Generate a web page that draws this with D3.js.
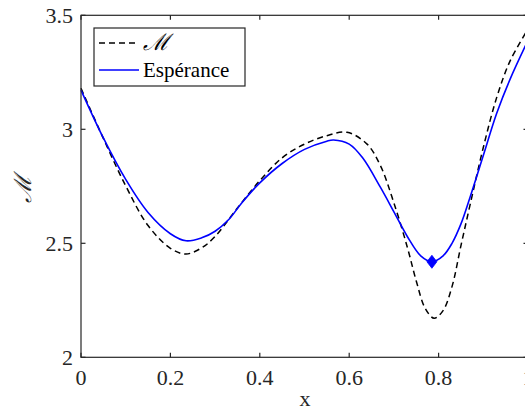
<!DOCTYPE html>
<html><head><meta charset="utf-8">
<script src="https://cdn.jsdelivr.net/npm/d3@7"></script>
<style>body{margin:0;background:#fff}svg{display:block}</style>
</head><body>
<script>
const xValues = [0, 0.05, 0.10, 0.15, 0.20, 0.235, 0.27, 0.30, 0.33, 0.36, 0.40, 0.45, 0.50, 0.55, 0.565, 0.60, 0.63, 0.67, 0.70, 0.73, 0.76, 0.785, 0.81, 0.83, 0.85, 0.87, 0.90, 0.93, 0.96, 1.0];
const esperance = [3.172, 2.962, 2.78, 2.635, 2.542, 2.511, 2.524, 2.553, 2.603, 2.678, 2.765, 2.85, 2.912, 2.948, 2.953, 2.935, 2.875, 2.745, 2.638, 2.53, 2.445, 2.419, 2.445, 2.5, 2.585, 2.70, 2.885, 3.07, 3.22, 3.39];
const xM = [0, 0.05, 0.10, 0.15, 0.20, 0.235, 0.27, 0.30, 0.35, 0.40, 0.45, 0.50, 0.55, 0.595, 0.64, 0.67, 0.70, 0.73, 0.75, 0.77, 0.79, 0.81, 0.83, 0.85, 0.87, 0.90, 0.93, 0.96, 1.0];
const mValues = [3.18, 2.96, 2.752, 2.578, 2.478, 2.453, 2.48, 2.53, 2.655, 2.775, 2.875, 2.935, 2.972, 2.987, 2.935, 2.84, 2.677, 2.483, 2.335, 2.215, 2.171, 2.205, 2.31, 2.49, 2.665, 2.92, 3.14, 3.30, 3.44];
const minPoint = [0.785, 2.419];
const xTicks = [0, 0.2, 0.4, 0.6, 0.8, 1];
const yTicks = [2, 2.5, 3, 3.5];
const legendLabels = ["\u2133", "Espérance"];

const W = 525, H = 410;
const L = 81, R = 528, T = 15.3, B = 357.3;
const svg = d3.select("body").append("svg").attr("width", W).attr("height", H);
const x = d3.scaleLinear().domain([0, 1]).range([L, R]);
const y = d3.scaleLinear().domain([2, 3.5]).range([B, T]);
const axisColor = "#262626";
const font = "'Liberation Serif', serif";

const line = d3.line().curve(d3.curveCatmullRom.alpha(0.5));
svg.append("path").attr("d", line(xM.map((v, i) => [x(v), y(mValues[i])])))
  .attr("fill", "none").attr("stroke", "#000").attr("stroke-width", 1.5).attr("stroke-dasharray", "6,4");
svg.append("path").attr("d", line(xValues.map((v, i) => [x(v), y(esperance[i])])))
  .attr("fill", "none").attr("stroke", "#0000ff").attr("stroke-width", 1.6);
const mx = x(minPoint[0]), my = y(minPoint[1]);
svg.append("path").attr("d", `M${mx},${my - 6.5}L${mx + 5},${my}L${mx},${my + 6.5}L${mx - 5},${my}Z`)
  .attr("fill", "#0000ff").attr("stroke", "#0000ff").attr("stroke-width", 0.8);

// axes
const ax = svg.append("g").attr("stroke", axisColor).attr("stroke-width", 1.2).attr("fill", "none");
ax.append("rect").attr("x", L).attr("y", T).attr("width", R - L).attr("height", B - T);
xTicks.forEach(t => {
  ax.append("line").attr("x1", x(t)).attr("x2", x(t)).attr("y1", B).attr("y2", B - 4.5);
  ax.append("line").attr("x1", x(t)).attr("x2", x(t)).attr("y1", T).attr("y2", T + 4.5);
});
yTicks.forEach(t => {
  ax.append("line").attr("x1", L).attr("x2", L + 4.5).attr("y1", y(t)).attr("y2", y(t));
  ax.append("line").attr("x1", R).attr("x2", R - 4.5).attr("y1", y(t)).attr("y2", y(t));
});
const fmt = d => d3.format("~g")(d);
xTicks.forEach(t => {
  svg.append("text").attr("x", x(t)).attr("y", 385).attr("text-anchor", "middle")
    .attr("font-family", font).attr("font-size", 22).attr("fill", axisColor).text(fmt(t));
});
yTicks.forEach(t => {
  svg.append("text").attr("x", 73).attr("y", y(t) + 7.5).attr("text-anchor", "end")
    .attr("font-family", font).attr("font-size", 22).attr("fill", axisColor).text(t === 3 || t === 2 ? fmt(t) : t.toFixed(1));
});
svg.append("text").attr("x", 305).attr("y", 406).attr("text-anchor", "middle")
  .attr("font-family", font).attr("font-size", 22).attr("fill", axisColor).text("x");
svg.append("text").attr("transform", "translate(31,189) rotate(-90)").attr("text-anchor", "middle")
  .attr("font-family", "'DejaVu Serif', serif").attr("font-style", "italic").attr("font-size", 24).attr("fill", axisColor).text("\u2133");

// legend
const lg = svg.append("g");
lg.append("rect").attr("x", 94).attr("y", 28).attr("width", 151).attr("height", 58)
  .attr("fill", "#fff").attr("stroke", axisColor).attr("stroke-width", 1.2);
lg.append("line").attr("x1", 99).attr("x2", 139).attr("y1", 43).attr("y2", 43)
  .attr("stroke", "#000").attr("stroke-width", 1.5).attr("stroke-dasharray", "6,4");
lg.append("line").attr("x1", 99).attr("x2", 139).attr("y1", 70).attr("y2", 70)
  .attr("stroke", "#0000ff").attr("stroke-width", 1.6);
lg.append("text").attr("x", 143).attr("y", 50).attr("font-family", "'DejaVu Serif', serif")
  .attr("font-style", "italic").attr("font-size", 23).attr("fill", "#000").text(legendLabels[0]);
lg.append("text").attr("x", 143).attr("y", 77).attr("font-family", font)
  .attr("font-size", 21).attr("fill", "#000").text(legendLabels[1]);
</script>
</body></html>
